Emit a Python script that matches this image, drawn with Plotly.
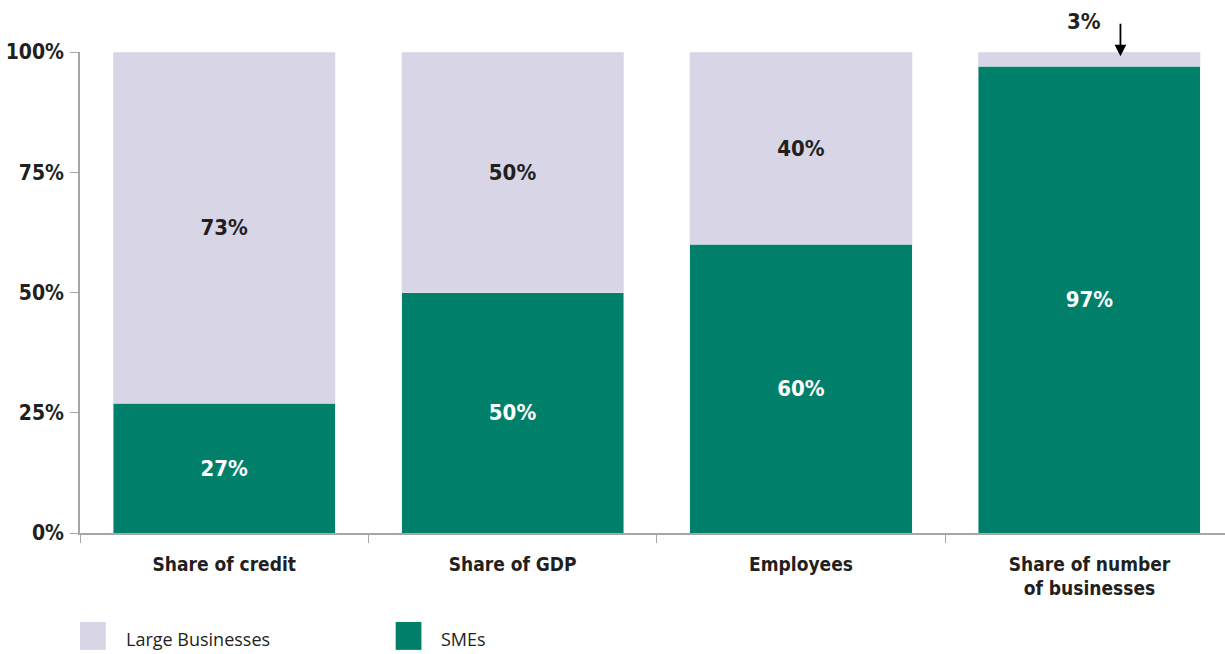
import plotly.graph_objects as go

categories = ["Share of credit", "Share of GDP", "Employees", "Share of number<br>of businesses"]
smes = [27, 50, 60, 97]
large = [73, 50, 40, 3]
large_labels = ["73%", "50%", "40%", ""]
sme_labels = ["27%", "50%", "60%", "97%"]
y_ticks = [0, 25, 50, 75, 100]
y_ticktext = ["0%", "25%", "50%", "75%", "100%"]

GREEN = "#00806A"
LAVENDER = "#D7D5E6"
TXT = "#231F20"
FONT = "DejaVu Sans Condensed, Liberation Sans Narrow, sans-serif"

def f(size, color=TXT, bold=True):
    return dict(family=FONT, size=size, color=color, weight="bold" if bold else "normal")

fig = go.Figure()
fig.add_trace(go.Bar(
    x=categories, y=smes, name="SMEs", marker_color=GREEN, width=0.77,
    text=sme_labels, textposition="inside", insidetextanchor="middle",
    textfont=f(22, "white"), showlegend=False, hoverinfo="y+name",
))
fig.add_trace(go.Bar(
    x=categories, y=large, name="Large Businesses", marker_color=LAVENDER, width=0.77,
    text=large_labels, textposition="inside", insidetextanchor="middle",
    textfont=f(22), showlegend=False, hoverinfo="y+name",
))

fig.update_layout(
    barmode="stack",
    width=1225, height=654,
    margin=dict(l=80, r=0, t=52, b=121),
    paper_bgcolor="white", plot_bgcolor="white",
    font=dict(family=FONT, color=TXT),
)
fig.update_xaxes(
    range=[-0.5, 3.47], showline=True, linecolor="#A6A6A6", linewidth=1.5,
    ticks="outside", tickson="boundaries", ticklen=8, tickcolor="#A6A6A6",
    tickfont=f(19), showgrid=False, zeroline=False, ticklabelstandoff=13,
)
fig.update_yaxes(
    range=[0, 100], tickvals=y_ticks, ticktext=y_ticktext,
    showline=True, linecolor="#A6A6A6", linewidth=1.5,
    ticks="outside", ticklen=8, tickcolor="#A6A6A6",
    tickfont=f(21), showgrid=False, zeroline=False, ticklabelstandoff=2,
)

# arrow callout for the small 3% segment
fig.add_annotation(x=3, y=large[3] / 2 + smes[3] + 0.6, xref="x", yref="y", xshift=31,
                   text="", showarrow=True, arrowhead=2, arrowsize=1.3, arrowwidth=1.8,
                   arrowcolor="black", ax=0, ay=-34)
fig.add_annotation(x=3, y=100, xref="x", yref="y", yshift=31, xshift=-5,
                   text="3%", showarrow=False, font=f(22))

# manual legend
legend_items = [("Large Businesses", LAVENDER, 0.0), ("SMEs", GREEN, 0.2757)]
for name, col, x0 in legend_items:
    fig.add_shape(type="rect", xref="paper", yref="paper",
                  x0=x0, x1=x0 + 0.0225, y0=-0.243, y1=-0.185,
                  fillcolor=col, line_width=0)
    fig.add_annotation(xref="paper", yref="paper", x=x0 + 0.038, y=-0.220,
                       text=name, showarrow=False, xanchor="left", yanchor="middle",
                       font=dict(family="Open Sans, Noto Sans, sans-serif", size=18, color=TXT))

fig.write_html("out.html")
